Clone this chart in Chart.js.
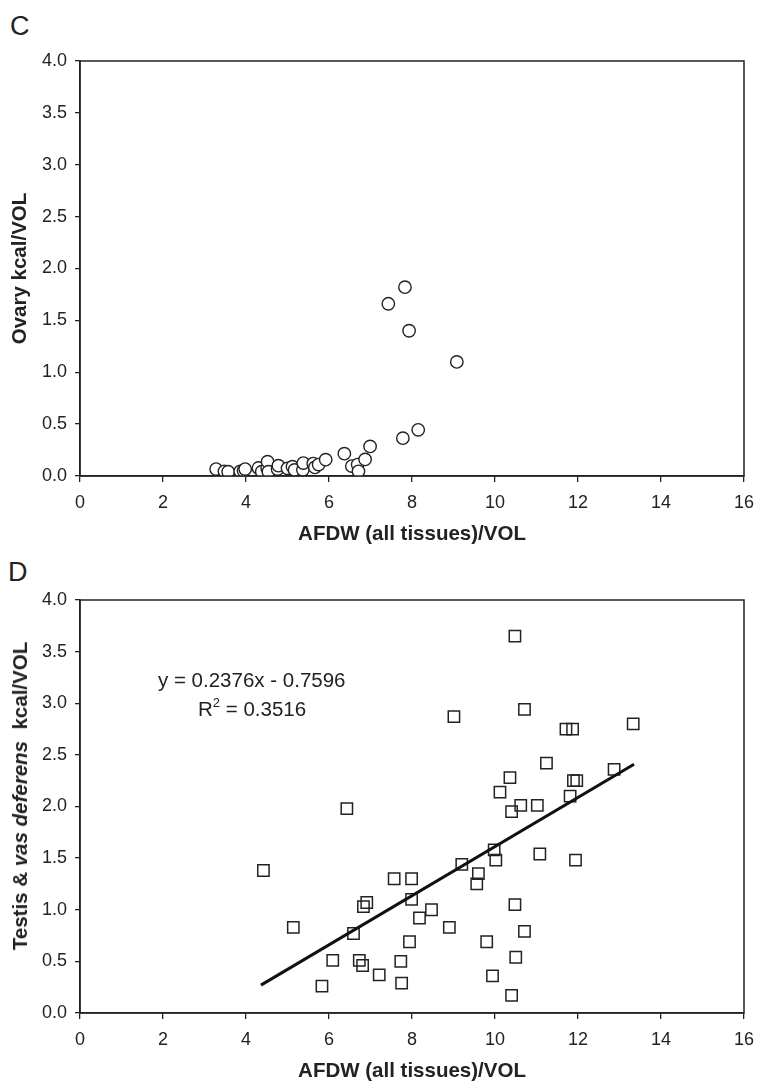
<!DOCTYPE html>
<html>
<head>
<meta charset="utf-8">
<script src="https://cdn.jsdelivr.net/npm/chart.js@4.4.1/dist/chart.umd.min.js"></script>
<style>
  body { margin: 0; background: #fff; font-family: "Liberation Sans", Arial, sans-serif; color: #222; }
  #wrap { position: relative; width: 757px; height: 1082px; overflow: hidden; }
  canvas { position: absolute; left: 0; }
  .panel { position: absolute; font-size: 27px; }
  .ytitle { position: absolute; font-weight: bold; font-size: 20.5px; white-space: pre;
            transform: translate(-50%, -50%) rotate(-90deg); }
  .eq { position: absolute; font-size: 20.5px; white-space: pre; }
</style>
</head>
<body>
<div id="wrap">
  <div class="panel" style="left:10px; top:11px;">C</div>
  <canvas id="chartC" width="757" height="547" style="top:0px"></canvas>
  <div class="panel" style="left:8px; top:557px;">D</div>
  <canvas id="chartD" width="757" height="544" style="top:540px"></canvas>
  <div class="ytitle" style="left:20px; top:796px;">Testis &amp; <i>vas deferens</i>  kcal/VOL</div>
  <div class="eq" style="left:158px; top:668px;">y = 0.2376x - 0.7596</div>
  <div class="eq" style="left:198px; top:697px;">R<sup style="font-size:13px; vertical-align:9px; line-height:0;">2</sup> = 0.3516</div>
</div>
<script>
// --- DATA: panel C (ovary) ---
const ovaryX = [3.28, 3.48, 3.57, 3.86, 3.94, 3.98, 4.30, 4.38, 4.51, 4.52, 4.54, 4.76, 4.78, 5.00,
                5.12, 5.17, 5.37, 5.38, 5.62, 5.66, 5.75, 5.92, 6.37, 6.55, 6.69, 6.71, 6.87, 6.99,
                7.43, 7.78, 7.83, 7.93, 8.15, 9.08];
const ovaryY = [0.067, 0.045, 0.041, 0.045, 0.05, 0.067, 0.077, 0.041, 0.077, 0.138, 0.041, 0.067, 0.10, 0.074,
                0.09, 0.058, 0.06, 0.125, 0.12, 0.083, 0.11, 0.157, 0.215, 0.096, 0.11, 0.045, 0.16, 0.285,
                1.66, 0.365, 1.82, 1.40, 0.445, 1.10];

// --- DATA: panel D (testis & vas deferens) ---
const testisX = [4.42, 5.14, 5.83, 6.09, 6.43, 6.59, 6.73, 6.81, 6.83, 6.91, 7.21, 7.57, 7.73, 7.75,
                 7.94, 7.99, 7.99, 8.18, 8.47, 8.90, 9.01, 9.20, 9.56, 9.60, 9.80, 9.94, 9.98, 10.02,
                 10.12, 10.36, 10.40, 10.40, 10.48, 10.48, 10.50, 10.62, 10.71, 10.71, 11.02, 11.08,
                 11.24, 11.71, 11.81, 11.87, 11.89, 11.97, 11.94, 12.87, 13.33];
const testisY = [1.38, 0.83, 0.26, 0.51, 1.98, 0.77, 0.51, 0.46, 1.03, 1.07, 0.37, 1.30, 0.50, 0.29,
                 0.69, 1.30, 1.10, 0.92, 1.00, 0.83, 2.87, 1.44, 1.25, 1.35, 0.69, 0.36, 1.58, 1.48,
                 2.14, 2.28, 1.95, 0.17, 3.65, 1.05, 0.54, 2.01, 2.94, 0.79, 2.01, 1.54,
                 2.42, 2.75, 2.10, 2.75, 2.25, 2.25, 1.48, 2.36, 2.80];

// trend line end points as drawn
const trendX = [4.36, 13.35];
const trendY = [0.27, 2.41];

// axis ticks
const xTicks = [0, 2, 4, 6, 8, 10, 12, 14, 16];
const yTicks = [0, 0.5, 1, 1.5, 2, 2.5, 3, 3.5, 4];

const INK = '#222';
const FONT = '"Liberation Sans", Arial, sans-serif';

// draws the box round the plot area
const frame = {
    id: 'frame',
    afterDatasetsDraw(chart) {
        const a = chart.chartArea, c = chart.ctx;
        c.save();
        c.strokeStyle = INK;
        c.lineWidth = 1.5;
        c.strokeRect(a.left, a.top, a.right - a.left, a.bottom - a.top);
        c.restore();
    }
};

function toPoints(xs, ys) {
    return xs.map((x, i) => ({ x: x, y: ys[i] }));
}

function makeScales(yTitle, xHeight) {
    return {
        x: {
            type: 'linear', min: 0, max: 16,
            afterBuildTicks: s => { s.ticks = xTicks.map(v => ({ value: v })); },
            afterFit: s => { s.height = xHeight; s.paddingLeft = 0; s.paddingRight = 0; },
            grid: { drawOnChartArea: false, drawTicks: true, tickLength: 6, color: INK, lineWidth: 1.3 },
            border: { color: INK, width: 1.5 },
            ticks: { color: INK, font: { family: FONT, size: 18 }, padding: 10, maxRotation: 0 },
            title: { display: true, text: 'AFDW (all tissues)/VOL', color: INK,
                     font: { family: FONT, size: 20.5, weight: 'bold' }, padding: { top: 2, bottom: 0 } }
        },
        y: {
            type: 'linear', min: 0, max: 4,
            afterBuildTicks: s => { s.ticks = yTicks.map(v => ({ value: v })); },
            afterFit: s => { s.width = 80; s.paddingTop = 0; s.paddingBottom = 0; },
            grid: { drawOnChartArea: false, drawTicks: true, tickLength: 5, color: INK, lineWidth: 1.3 },
            border: { color: INK, width: 1.5 },
            ticks: { color: INK, font: { family: FONT, size: 18 }, padding: 8,
                     callback: v => v.toFixed(1) },
            title: { display: !!yTitle, text: yTitle, color: INK,
                     font: { family: FONT, size: 20.5, weight: 'bold' }, padding: { top: 8, bottom: 0 } }
        }
    };
}

// --- PANEL C ---
new Chart(document.getElementById('chartC'), {
    type: 'scatter',
    data: {
        datasets: [{
            data: toPoints(ovaryX, ovaryY),
            pointStyle: 'circle',
            pointRadius: 6.2,
            pointBorderWidth: 1.4,
            pointBorderColor: INK,
            pointBackgroundColor: '#fff'
        }]
    },
    options: {
        responsive: false,
        animation: false,
        layout: { padding: { top: 61, right: 13, left: 0, bottom: 0 } },
        plugins: { legend: { display: false }, tooltip: { enabled: false } },
        scales: makeScales('Ovary kcal/VOL', 547 - 476)
    },
    plugins: [frame]
});

// --- PANEL D ---
new Chart(document.getElementById('chartD'), {
    type: 'scatter',
    data: {
        datasets: [{
            type: 'line',
            data: toPoints(trendX, trendY),
            borderColor: '#111',
            borderWidth: 3,
            pointRadius: 0,
            fill: false,
            order: 0
        }, {
            data: toPoints(testisX, testisY),
            pointStyle: 'rect',
            pointRadius: 8,
            pointBorderWidth: 1.5,
            pointBorderColor: INK,
            pointBackgroundColor: 'rgba(255,255,255,0)',
            order: 1
        }]
    },
    options: {
        responsive: false,
        animation: false,
        layout: { padding: { top: 60, right: 13, left: 0, bottom: 0 } },
        plugins: { legend: { display: false }, tooltip: { enabled: false } },
        scales: makeScales('', 544 - 473)
    },
    plugins: [frame]
});
</script>
</body>
</html>
